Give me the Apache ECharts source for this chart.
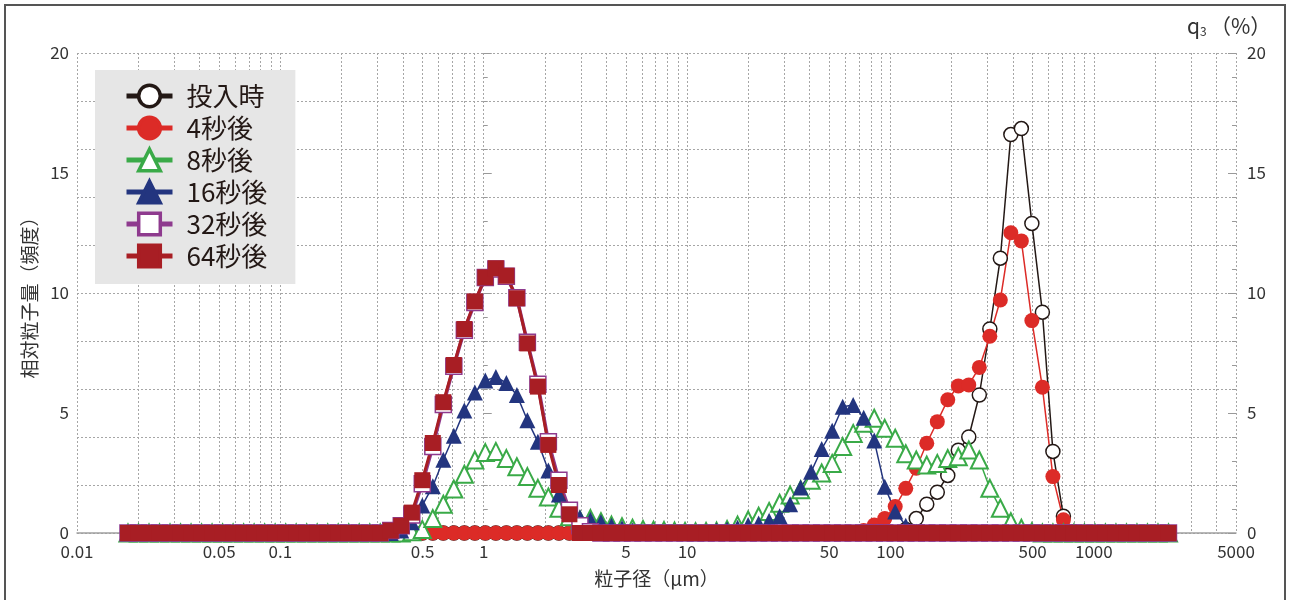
<!DOCTYPE html>
<html><head><meta charset="utf-8">
<script src="https://cdn.jsdelivr.net/npm/echarts@6/dist/echarts.min.js"></script>
<style>html,body{margin:0;padding:0;background:#fff}#c{width:1290px;height:600px}</style>
</head><body><div id="c"></div><script>
// particle size bins (µm)
const sizes = [
0.01781,0.02006,0.02260,0.02545,0.02867,0.03230,0.03638,0.04097,0.04615,0.05199,
0.05856,0.06596,0.07429,0.08368,0.09426,0.1062,0.1196,0.1347,0.1517,0.1709,
0.1925,0.2168,0.2442,0.2751,0.3098,0.3490,0.3931,0.4428,0.4987,0.5618,
0.6328,0.7127,0.8028,0.9043,1.018,1.147,1.292,1.455,1.639,1.846,
2.079,2.342,2.638,2.972,3.347,3.770,4.247,4.784,5.388,6.069,
6.836,7.700,8.673,9.767,11.00,12.39,13.96,15.72,17.71,19.95,
22.47,25.31,28.50,32.11,36.16,40.73,45.88,51.68,58.21,65.57,
73.85,83.19,93.70,105.5,118.9,133.9,150.8,169.9,191.3,215.5,
242.7,273.4,308.0,346.9,390.7,440.1,495.7,558.4,629.0,708.5,
798.0,898.8,1012,1140,1284,1447,1629,1835,2067,2328];
// 投入時
const q_0s = [
0,0,0,0,0,0,0,0,0,0, 0,0,0,0,0,0,0,0,0,0,
0,0,0,0,0,0,0,0,0,0, 0,0,0,0,0,0,0,0,0,0,
0,0,0,0,0,0,0,0,0,0, 0,0,0,0,0,0,0,0,0,0,
0,0,0,0,0,0,0,0,0,0,
0,0,0,0,0.15,0.6,1.2,1.7,2.4,3.45,
4.0,5.75,8.5,11.45,16.6,16.85,12.9,9.2,3.4,0.7,
0.05,0,0,0,0,0,0,0,0,0];
// 4秒後
const q_4s = [
0,0,0,0,0,0,0,0,0,0, 0,0,0,0,0,0,0,0,0,0,
0,0,0,0,0,0,0,0,0,0, 0,0,0,0,0,0,0,0,0,0,
0,0,0,0,0,0,0,0,0,0, 0,0,0,0,0,0,0,0,0,0,
0,0,0,0,0,0,0,0,0,0,
0.1,0.33,0.6,1.1,1.86,2.7,3.74,4.64,5.55,6.13,
6.17,6.9,8.2,9.71,12.51,12.17,8.85,6.07,2.35,0.55,
0.05,0,0,0,0,0,0,0,0,0];
// 8秒後
const q_8s = [
0,0,0,0,0,0,0,0,0,0, 0,0,0,0,0,0,0,0,0,0,
0,0,0,0,0,0,0,0.05,0.15,0.6,
1.2,1.83,2.45,3.04,3.35,3.4,3.1,2.76,2.35,1.86,
1.5,1.03,0.68,0.54,0.6,0.47,0.33,0.26,0.2,0.15,
0.12,0.1,0.08,0.06,0.05,0.06,0.08,0.15,0.33,0.54,
0.7,0.9,1.24,1.58,1.8,2.2,2.5,2.9,3.6,4.15,
4.57,4.78,4.36,3.95,3.3,3.04,2.83,2.9,3.1,3.18,
3.46,3.04,1.86,1.03,0.47,0.2,0.05,0,0,0,
0,0,0,0,0,0,0,0,0,0];
// 16秒後
const q_16s = [
0,0,0,0,0,0,0,0,0,0, 0,0,0,0,0,0,0,0,0,0,
0,0,0,0,0,0,0.1,0.45,1.15,1.95,
3.05,4.05,5.1,5.85,6.35,6.5,6.25,5.75,4.7,3.8,
2.6,1.6,0.85,0.65,0.55,0.45,0.3,0.2,0.1,0.05,
0,0,0,0,0,0.05,0.1,0.15,0.22,0.33,
0.4,0.51,0.7,1.2,1.9,2.55,3.5,4.26,5.26,5.33,
4.8,3.85,1.93,0.9,0.3,0.05,0,0,0,0,
0,0,0,0,0,0,0,0,0,0, 0,0,0,0,0,0,0,0,0,0];
// 32秒後
const q_32s = [
0,0,0,0,0,0,0,0,0,0, 0,0,0,0,0,0,0,0,0,0,
0,0,0,0,0,0.1,0.3,0.75,2.05,3.6,
5.35,6.95,8.45,9.6,10.65,11.0,10.7,9.8,7.95,6.2,
3.8,2.2,0.95,0.3,0.05,0,0,0,0,0,
0,0,0,0,0,0,0,0,0,0, 0,0,0,0,0,0,0,0,0,0,
0,0,0,0,0,0,0,0,0,0, 0,0,0,0,0,0,0,0,0,0,
0,0,0,0,0,0,0,0,0,0];
// 64秒後
const q_64s = [
0,0,0,0,0,0,0,0,0,0, 0,0,0,0,0,0,0,0,0,0,
0,0,0,0,0,0.1,0.3,0.85,2.2,3.75,
5.45,7.0,8.5,9.65,10.65,11.03,10.72,9.78,7.9,6.1,
3.67,2.0,0.78,0,0,0,0,0,0,0,
0,0,0,0,0,0,0,0,0,0, 0,0,0,0,0,0,0,0,0,0,
0,0,0,0,0,0,0,0,0,0, 0,0,0,0,0,0,0,0,0,0,
0,0,0,0,0,0,0,0,0,0];

const seriesNames = ['投入時','4秒後','8秒後','16秒後','32秒後','64秒後'];
const xTickLabels = [0.01,0.05,0.1,0.5,1,5,10,50,100,500,1000,5000];
const yTickLabels = [0,5,10,15,20];

const L = v => Math.log10(v);
const xGrid = [];
for (let e = -2; e <= 3; e++) for (let m = 1; m <= 9; m++) { const v = m * Math.pow(10, e); if (v <= 5000.0001) xGrid.push(L(v)); }

const FONT = '"Noto Sans CJK JP", "Noto Sans", sans-serif';
const TXT = '#333';
const GRIDC = '#a6a6a6';

function mk(name, vals, symbol, size, color, fill, lw, bw) {
  return {
    name, type: 'line', data: sizes.map((s, i) => [L(s), vals[i]]),
    symbol, symbolSize: size, showSymbol: true, showAllSymbol: true,
    lineStyle: { color, width: lw },
    itemStyle: { color: fill, borderColor: color, borderWidth: bw },
    emphasis: { disabled: true }, animation: false
  };
}

const chart = echarts.init(document.getElementById('c'), null, { renderer: 'canvas' });
const yBase = {
  type: 'value', min: 0, max: 20, interval: 5,
  axisLine: { show: false },
  axisTick: { show: true, inside: true, length: 8, lineStyle: { color: '#999' } },
  minorTick: { show: true, splitNumber: 5, length: 4, lineStyle: { color: '#999' } },
  splitLine: { show: false },
  axisLabel: { fontSize: 17, color: TXT, fontFamily: FONT,
    customValues: yTickLabels }
};
chart.setOption({
  animation: false,
  textStyle: { fontFamily: FONT },
  grid: { left: 77, right: 54, top: 53, bottom: 67, containLabel: false },
  xAxis: {
    type: 'value', min: L(0.01), max: L(5000),
    axisLine: { show: true, onZero: false, lineStyle: { color: '#a0a0a0', width: 1.5 } },
    axisTick: { show: false, customValues: xGrid },
    splitLine: { show: true, lineStyle: { color: GRIDC, type: [2, 2], width: 1 } },
    axisLabel: {
      customValues: xTickLabels.map(L), fontSize: 17, color: TXT, margin: 10, fontFamily: FONT,
      formatter: v => { const t = xTickLabels.find(t => Math.abs(L(t) - v) < 1e-6); return t === undefined ? '' : String(t); }
    },
    name: '粒子径（μm）', nameLocation: 'middle', nameGap: 36,
    nameTextStyle: { fontSize: 19, color: TXT, fontFamily: FONT }
  },
  yAxis: [
    Object.assign({}, yBase, { position: 'left', axisLabel: Object.assign({}, yBase.axisLabel, { margin: 8 }),
      name: '相対粒子量（頻度）', nameLocation: 'middle', nameGap: 29, nameRotate: 90,
      nameTextStyle: { fontSize: 19, color: TXT, fontFamily: FONT } }),
    Object.assign({}, yBase, { position: 'right', axisLabel: Object.assign({}, yBase.axisLabel, { margin: 11 }) }),
    { type: 'value', position: 'left', min: 0, max: 20, interval: 2,
      axisLine: { show: false }, axisTick: { show: false }, axisLabel: { show: false },
      splitLine: { show: true, lineStyle: { color: GRIDC, type: [2, 2], width: 1 } } }
  ],
  legend: {
    orient: 'vertical', left: 95, top: 70, backgroundColor: '#e6e6e6',
    padding: [13, 28, 15, 29], itemWidth: 46, itemHeight: 27, itemGap: 6,
    textStyle: { fontSize: 26, color: '#231815', padding: [0, 0, 0, 9], fontFamily: FONT },
    lineStyle: { width: 5 }, itemStyle: { borderWidth: 3.5 },
    data: seriesNames, selectedMode: false
  },
  series: [
    mk(seriesNames[0], q_0s, 'circle', 14, '#231815', '#ffffff', 1.5, 1.5),
    mk(seriesNames[1], q_4s, 'circle', 15, '#dc2b27', '#dc2b27', 1.5, 0),
    mk(seriesNames[2], q_8s, 'triangle', 17, '#3aaa48', '#ffffff', 1.5, 2),
    mk(seriesNames[3], q_16s, 'triangle', 16, '#23357f', '#23357f', 1.5, 0),
    mk(seriesNames[4], q_32s, 'rect', 16, '#8e3a8e', '#ffffff', 3.5, 1.5),
    mk(seriesNames[5], q_64s, 'rect', 16, '#a81e24', '#a81e24', 3, 0)
  ],
  graphic: [
    { type: 'rect', silent: true, z: 100, shape: { x: 5, y: 5, width: 1280, height: 640 }, style: { fill: 'none', stroke: '#555', lineWidth: 2 } },
    { type: 'text', silent: true, x: 1187, y: 26, style: { text: 'q', fontSize: 21, fill: TXT, fontFamily: FONT, verticalAlign: 'middle' } },
    { type: 'text', silent: true, x: 1200, y: 31, style: { text: '3', fontSize: 12, fill: TXT, fontFamily: FONT, verticalAlign: 'middle' } },
    { type: 'text', silent: true, x: 1210, y: 26, style: { text: '（%）', fontSize: 21, fill: TXT, fontFamily: FONT, verticalAlign: 'middle' } }
  ]
});
</script></body></html>
